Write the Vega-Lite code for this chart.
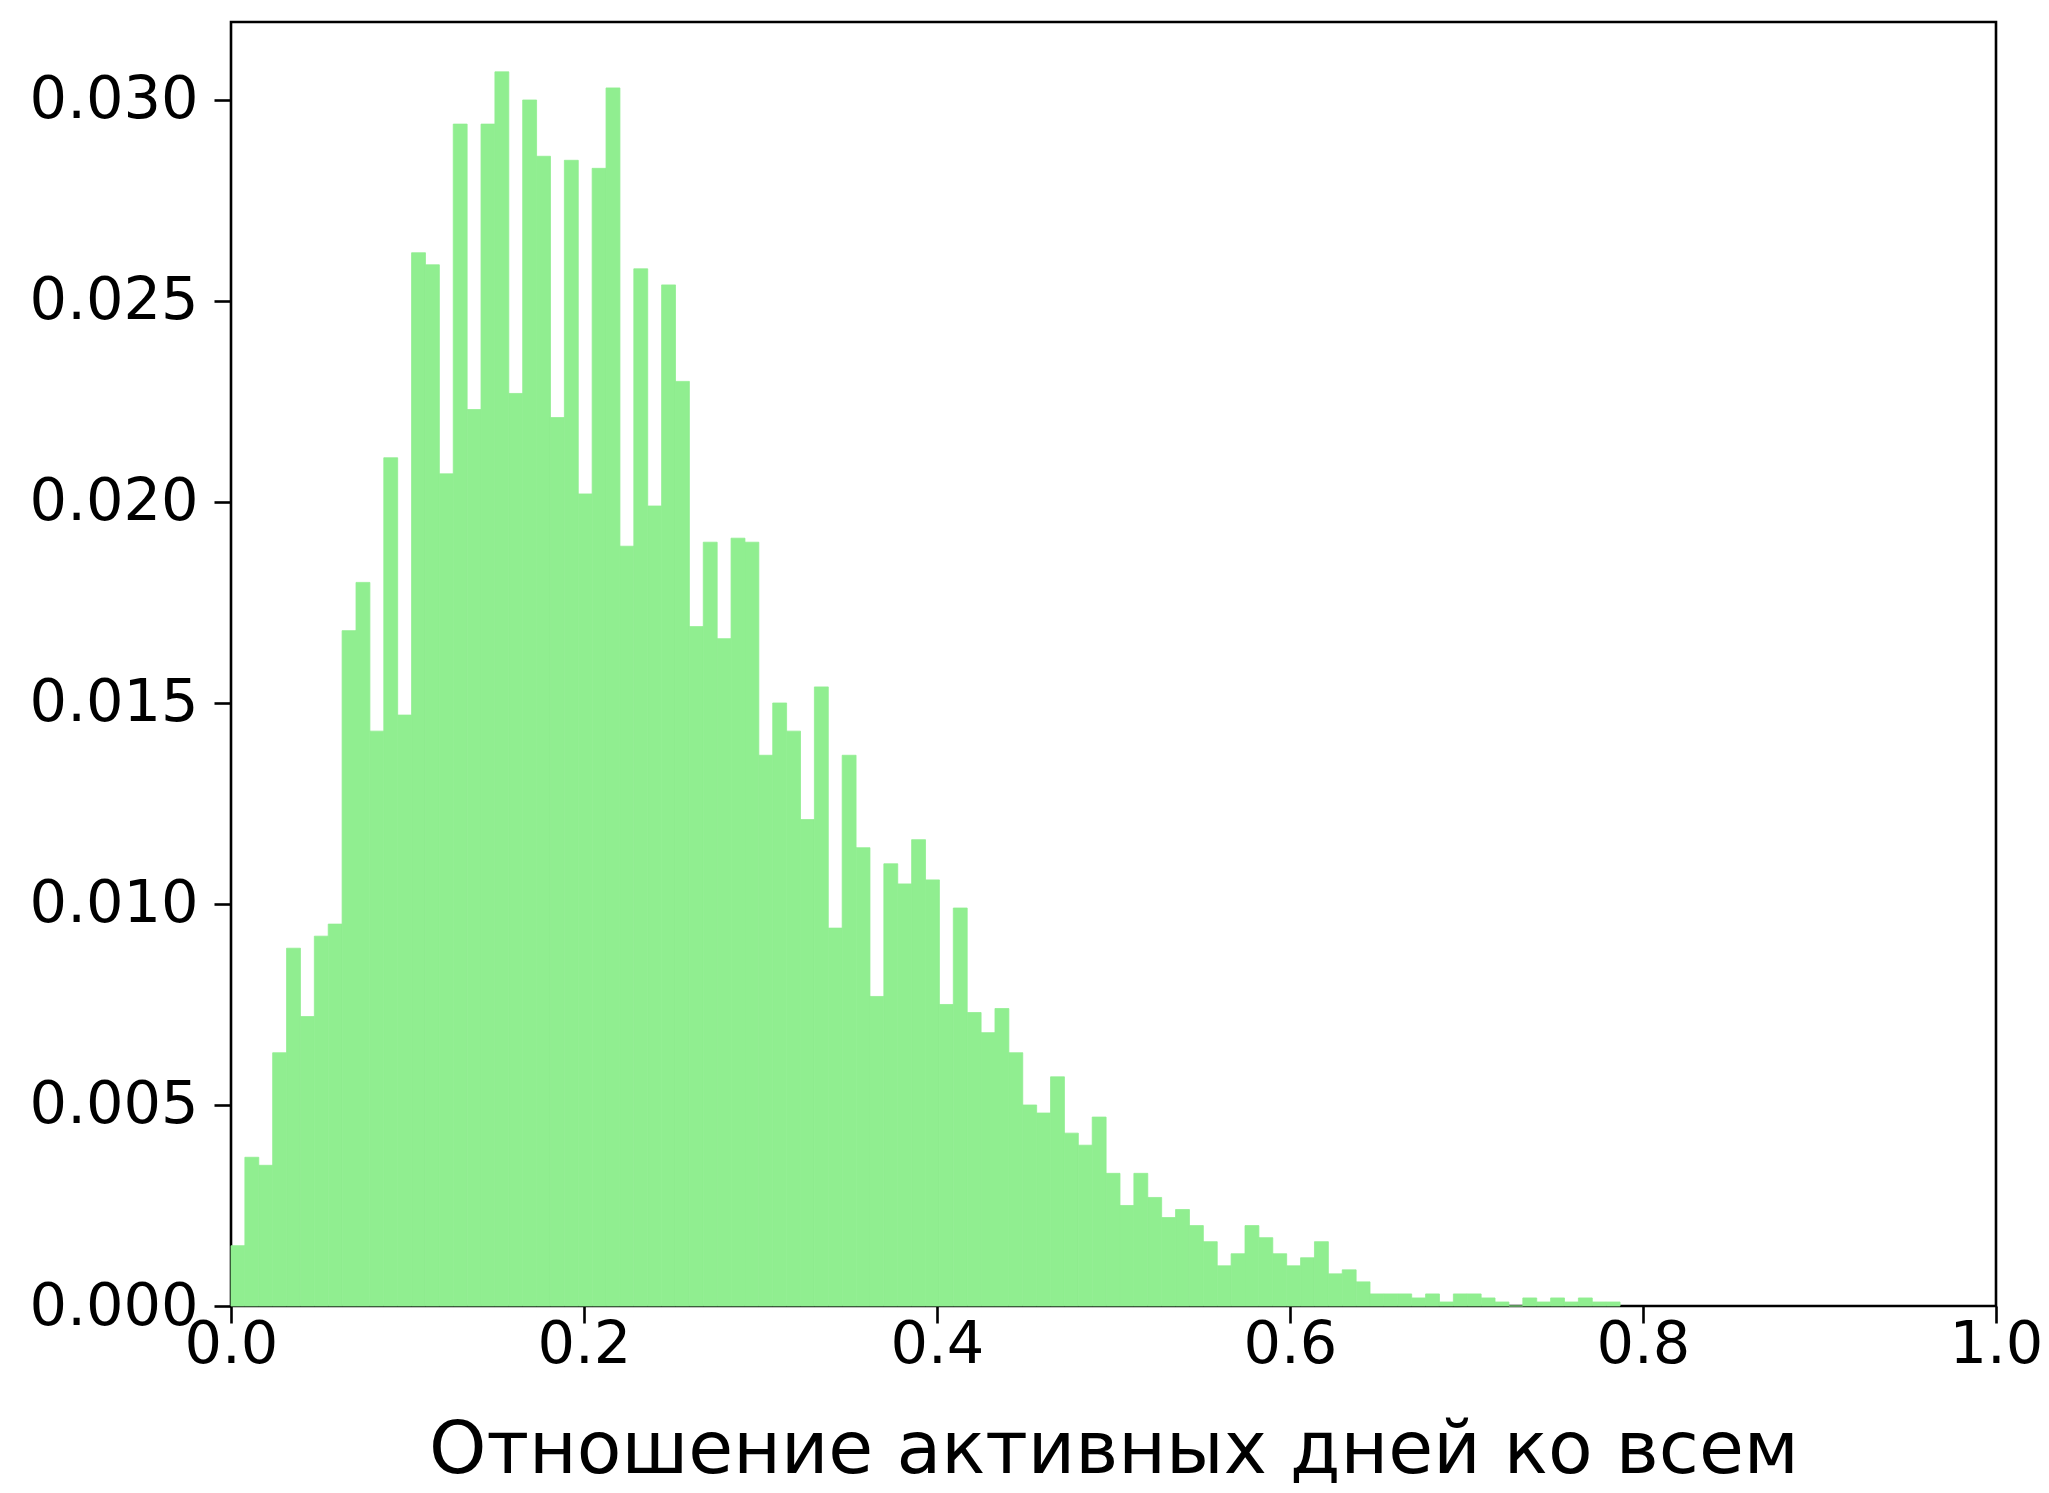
{
  "$schema": "https://vega.github.io/schema/vega-lite/v6.json",
  "autosize": {"type": "none"},
  "width": 1765,
  "height": 1284,
  "padding": {"left": 231, "top": 22, "right": 53, "bottom": 187},
  "background": "white",
  "config": {
    "view": {"stroke": "#000000", "strokeWidth": 2.6},
    "font": "DejaVu Sans",
    "axis": {
      "grid": false,
      "domain": false,
      "ticks": true,
      "tickColor": "#000000",
      "tickWidth": 2.6,
      "tickSize": 17,
      "labelColor": "#000000",
      "labelFont": "DejaVu Sans",
      "labelFontSize": 59,
      "titleFont": "DejaVu Sans",
      "titleFontSize": 73,
      "titleFontWeight": "normal",
      "titleColor": "#000000"
    }
  },
  "data": {
    "values": [
      {"x0": 0, "x1": 0.00787, "p": 0.0015},
      {"x0": 0.00787, "x1": 0.01574, "p": 0.0037},
      {"x0": 0.01574, "x1": 0.02361, "p": 0.0035},
      {"x0": 0.02361, "x1": 0.03148, "p": 0.0063},
      {"x0": 0.03148, "x1": 0.03935, "p": 0.0089},
      {"x0": 0.03935, "x1": 0.04722, "p": 0.0072},
      {"x0": 0.04722, "x1": 0.05509, "p": 0.0092},
      {"x0": 0.05509, "x1": 0.06296, "p": 0.0095},
      {"x0": 0.06296, "x1": 0.07083, "p": 0.0168},
      {"x0": 0.07083, "x1": 0.0787, "p": 0.018},
      {"x0": 0.0787, "x1": 0.08657, "p": 0.0143},
      {"x0": 0.08657, "x1": 0.09444, "p": 0.0211},
      {"x0": 0.09444, "x1": 0.10231, "p": 0.0147},
      {"x0": 0.10231, "x1": 0.11018, "p": 0.0262},
      {"x0": 0.11018, "x1": 0.11805, "p": 0.0259},
      {"x0": 0.11805, "x1": 0.12592, "p": 0.0207},
      {"x0": 0.12592, "x1": 0.13379, "p": 0.0294},
      {"x0": 0.13379, "x1": 0.14166, "p": 0.0223},
      {"x0": 0.14166, "x1": 0.14953, "p": 0.0294},
      {"x0": 0.14953, "x1": 0.1574, "p": 0.0307},
      {"x0": 0.1574, "x1": 0.16527, "p": 0.0227},
      {"x0": 0.16527, "x1": 0.17314, "p": 0.03},
      {"x0": 0.17314, "x1": 0.18101, "p": 0.0286},
      {"x0": 0.18101, "x1": 0.18888, "p": 0.0221},
      {"x0": 0.18888, "x1": 0.19675, "p": 0.0285},
      {"x0": 0.19675, "x1": 0.20462, "p": 0.0202},
      {"x0": 0.20462, "x1": 0.21249, "p": 0.0283},
      {"x0": 0.21249, "x1": 0.22036, "p": 0.0303},
      {"x0": 0.22036, "x1": 0.22823, "p": 0.0189},
      {"x0": 0.22823, "x1": 0.2361, "p": 0.0258},
      {"x0": 0.2361, "x1": 0.24397, "p": 0.0199},
      {"x0": 0.24397, "x1": 0.25184, "p": 0.0254},
      {"x0": 0.25184, "x1": 0.25971, "p": 0.023},
      {"x0": 0.25971, "x1": 0.26758, "p": 0.0169},
      {"x0": 0.26758, "x1": 0.27545, "p": 0.019},
      {"x0": 0.27545, "x1": 0.28332, "p": 0.0166},
      {"x0": 0.28332, "x1": 0.29119, "p": 0.0191},
      {"x0": 0.29119, "x1": 0.29906, "p": 0.019},
      {"x0": 0.29906, "x1": 0.30693, "p": 0.0137},
      {"x0": 0.30693, "x1": 0.3148, "p": 0.015},
      {"x0": 0.3148, "x1": 0.32267, "p": 0.0143},
      {"x0": 0.32267, "x1": 0.33054, "p": 0.0121},
      {"x0": 0.33054, "x1": 0.33841, "p": 0.0154},
      {"x0": 0.33841, "x1": 0.34628, "p": 0.0094},
      {"x0": 0.34628, "x1": 0.35415, "p": 0.0137},
      {"x0": 0.35415, "x1": 0.36202, "p": 0.0114},
      {"x0": 0.36202, "x1": 0.36989, "p": 0.0077},
      {"x0": 0.36989, "x1": 0.37776, "p": 0.011},
      {"x0": 0.37776, "x1": 0.38563, "p": 0.0105},
      {"x0": 0.38563, "x1": 0.3935, "p": 0.0116},
      {"x0": 0.3935, "x1": 0.40137, "p": 0.0106},
      {"x0": 0.40137, "x1": 0.40924, "p": 0.0075},
      {"x0": 0.40924, "x1": 0.41711, "p": 0.0099},
      {"x0": 0.41711, "x1": 0.42498, "p": 0.0073},
      {"x0": 0.42498, "x1": 0.43285, "p": 0.0068},
      {"x0": 0.43285, "x1": 0.44072, "p": 0.0074},
      {"x0": 0.44072, "x1": 0.44859, "p": 0.0063},
      {"x0": 0.44859, "x1": 0.45646, "p": 0.005},
      {"x0": 0.45646, "x1": 0.46433, "p": 0.0048},
      {"x0": 0.46433, "x1": 0.4722, "p": 0.0057},
      {"x0": 0.4722, "x1": 0.48007, "p": 0.0043},
      {"x0": 0.48007, "x1": 0.48794, "p": 0.004},
      {"x0": 0.48794, "x1": 0.49581, "p": 0.0047},
      {"x0": 0.49581, "x1": 0.50368, "p": 0.0033},
      {"x0": 0.50368, "x1": 0.51155, "p": 0.0025},
      {"x0": 0.51155, "x1": 0.51942, "p": 0.0033},
      {"x0": 0.51942, "x1": 0.52729, "p": 0.0027},
      {"x0": 0.52729, "x1": 0.53516, "p": 0.0022},
      {"x0": 0.53516, "x1": 0.54303, "p": 0.0024},
      {"x0": 0.54303, "x1": 0.5509, "p": 0.002},
      {"x0": 0.5509, "x1": 0.55877, "p": 0.0016},
      {"x0": 0.55877, "x1": 0.56664, "p": 0.001},
      {"x0": 0.56664, "x1": 0.57451, "p": 0.0013},
      {"x0": 0.57451, "x1": 0.58238, "p": 0.002},
      {"x0": 0.58238, "x1": 0.59025, "p": 0.0017},
      {"x0": 0.59025, "x1": 0.59812, "p": 0.0013},
      {"x0": 0.59812, "x1": 0.60599, "p": 0.001},
      {"x0": 0.60599, "x1": 0.61386, "p": 0.0012},
      {"x0": 0.61386, "x1": 0.62173, "p": 0.0016},
      {"x0": 0.62173, "x1": 0.6296, "p": 0.0008},
      {"x0": 0.6296, "x1": 0.63747, "p": 0.0009},
      {"x0": 0.63747, "x1": 0.64534, "p": 0.0006},
      {"x0": 0.64534, "x1": 0.65321, "p": 0.0003},
      {"x0": 0.65321, "x1": 0.66108, "p": 0.0003},
      {"x0": 0.66108, "x1": 0.66895, "p": 0.0003},
      {"x0": 0.66895, "x1": 0.67682, "p": 0.0002},
      {"x0": 0.67682, "x1": 0.68469, "p": 0.0003},
      {"x0": 0.68469, "x1": 0.69256, "p": 0.0001},
      {"x0": 0.69256, "x1": 0.70043, "p": 0.0003},
      {"x0": 0.70043, "x1": 0.7083, "p": 0.0003},
      {"x0": 0.7083, "x1": 0.71617, "p": 0.0002},
      {"x0": 0.71617, "x1": 0.72404, "p": 0.0001},
      {"x0": 0.72404, "x1": 0.73191, "p": 0.0},
      {"x0": 0.73191, "x1": 0.73978, "p": 0.0002},
      {"x0": 0.73978, "x1": 0.74765, "p": 0.0001},
      {"x0": 0.74765, "x1": 0.75552, "p": 0.0002},
      {"x0": 0.75552, "x1": 0.76339, "p": 0.0001},
      {"x0": 0.76339, "x1": 0.77126, "p": 0.0002},
      {"x0": 0.77126, "x1": 0.77913, "p": 0.0001},
      {"x0": 0.77913, "x1": 0.787, "p": 0.0001}
    ]
  },
  "mark": {"type": "rect", "color": "#90EE90", "stroke": "#90EE90", "strokeWidth": 0.8},
  "encoding": {
    "x": {
      "field": "x0",
      "type": "quantitative",
      "scale": {"domain": [0, 1], "nice": false, "zero": false},
      "axis": {
        "title": "Отношение активных дней ко всем",
        "values": [0, 0.2, 0.4, 0.6, 0.8, 1.0],
        "format": ".1f",
        "labelPadding": -8,
        "titleY": 166,
        "titleBaseline": "alphabetic",
        "labelFlush": false
      }
    },
    "x2": {"field": "x1"},
    "y": {
      "field": "p",
      "type": "quantitative",
      "scale": {"domain": [0, 0.03194], "nice": false, "zero": true},
      "axis": {
        "title": null,
        "values": [0, 0.005, 0.01, 0.015, 0.02, 0.025, 0.03],
        "format": ".3f",
        "labelPadding": 16,
        "labelFlush": false
      }
    },
    "y2": {"datum": 0}
  }
}
